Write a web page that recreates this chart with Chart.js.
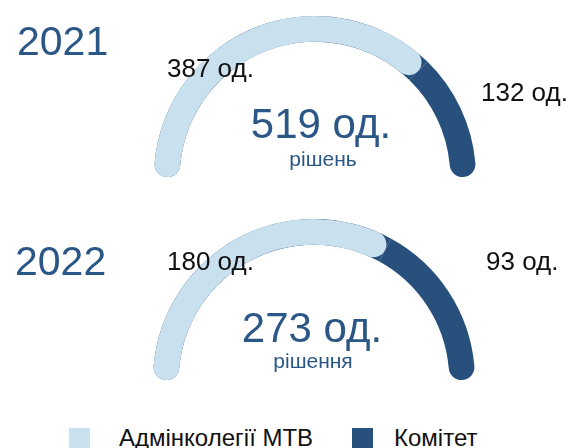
<!DOCTYPE html>
<html lang="uk">
<head>
<meta charset="utf-8">
<title>Рішення</title>
<script src="https://cdn.jsdelivr.net/npm/chart.js@4.4.0/dist/chart.umd.min.js"></script>
<style>
  html, body { margin: 0; padding: 0; background: #fff; }
  #page { position: relative; width: 570px; height: 448px; overflow: hidden; font-family: 'Liberation Sans', Arial, sans-serif; }
  .gauge { position: absolute; left: 0; width: 570px; height: 200px; }
  .swatch { position: absolute; top: 428px; width: 21px; height: 20px; }
  .legend-label { position: absolute; top: 426px; font-size: 24px; line-height: 24px; color: #111; white-space: nowrap; }
</style>
</head>
<body>
<div id="page">
  <div class="gauge" style="top:0px"><canvas id="gauge-0" width="570" height="200"></canvas></div>
  <div class="gauge" style="top:205px"><canvas id="gauge-1" width="570" height="200"></canvas></div>
</div>
<script>
// decisions per year: admin board vs committee
const years = ['2021', '2022'];
const categories = ['Адмінколегії МТВ', 'Комітет'];
const adminDecisions = [387, 180];
const committeeDecisions = [132, 93];
const totalCaptions = ['рішень', 'рішення'];
const unit = 'од.';

const LIGHT = '#c9e1ee';
const DARK = '#27507c';
const BLUE_TEXT = '#2b5786';
const FONT = "'Liberation Sans', Arial, sans-serif";

// canvas-local text positions [x, baseline] for each gauge
const gaugeLayout = [
  { padding: { left: 165, right: 105, top: 10, bottom: 17 },
    year: [17, 55], left: [167, 77], right: [481, 101], total: [321, 138], caption: [323, 166] },
  { padding: { left: 163, right: 105, top: 8, bottom: 19 },
    year: [15, 70], left: [167, 65], right: [486, 65], total: [312, 137], caption: [313, 163] }
];

// dark track is drawn under the light arc on the same ring
const sharedRing = {
  id: 'sharedRing',
  afterDatasetsUpdate(chart) {
    const ref = chart.getDatasetMeta(0).data[0];
    chart.getDatasetMeta(1).data.forEach(arc => {
      arc.innerRadius = ref.innerRadius;
      arc.outerRadius = ref.outerRadius;
    });
  }
};

function gaugeText(i) {
  const pos = gaugeLayout[i];
  return {
    id: 'gaugeText',
    afterDraw(chart) {
      const ctx = chart.ctx;
      ctx.save();
      ctx.textBaseline = 'alphabetic';
      ctx.textAlign = 'left';
      ctx.fillStyle = BLUE_TEXT;
      ctx.font = '41px ' + FONT;
      ctx.fillText(years[i], pos.year[0], pos.year[1]);

      ctx.fillStyle = '#111';
      ctx.font = '26px ' + FONT;
      ctx.fillText(`${adminDecisions[i]} ${unit}`, pos.left[0], pos.left[1]);
      ctx.fillText(`${committeeDecisions[i]} ${unit}`, pos.right[0], pos.right[1]);

      ctx.fillStyle = BLUE_TEXT;
      ctx.textAlign = 'center';
      ctx.font = '42px ' + FONT;
      ctx.fillText(`${adminDecisions[i] + committeeDecisions[i]} ${unit}`, pos.total[0], pos.total[1]);
      ctx.font = '21px ' + FONT;
      ctx.fillText(totalCaptions[i], pos.caption[0], pos.caption[1]);
      ctx.restore();
    }
  };
}

years.forEach((year, i) => {
  const values = [adminDecisions[i], committeeDecisions[i]];
  new Chart(document.getElementById('gauge-' + i), {
    type: 'doughnut',
    data: {
      labels: categories,
      datasets: [
        {
          label: categories[0],
          data: values,
          backgroundColor: [LIGHT, 'rgba(0,0,0,0)'],
          borderWidth: 0,
          hoverOffset: 0,
          borderRadius: c => c.dataIndex === 0 ? 30 : 0
        },
        {
          label: categories[1],
          data: values,
          backgroundColor: [DARK, DARK],
          borderWidth: 0,
          hoverOffset: 0,
          weight: 0,
          borderRadius: c => c.dataIndex === 0
            ? { outerStart: 30, innerStart: 30, outerEnd: 0, innerEnd: 0 }
            : { outerStart: 0, innerStart: 0, outerEnd: 30, innerEnd: 30 }
        }
      ]
    },
    options: {
      responsive: false,
      animation: false,
      events: [],
      rotation: -90,
      circumference: 180,
      radius: 161,
      cutout: '84%',
      layout: { padding: gaugeLayout[i].padding },
      plugins: {
        legend: { display: false },
        tooltip: { enabled: false }
      }
    },
    plugins: [sharedRing, gaugeText(i)]
  });
});

// legend
const legendColors = [LIGHT, DARK];
const swatchX = [69, 352];
const labelX = [119, 394];
const page = document.getElementById('page');
categories.forEach((name, i) => {
  const sw = document.createElement('div');
  sw.className = 'swatch';
  sw.style.left = swatchX[i] + 'px';
  sw.style.background = legendColors[i];
  page.appendChild(sw);

  const lbl = document.createElement('div');
  lbl.className = 'legend-label';
  lbl.style.left = labelX[i] + 'px';
  lbl.textContent = name;
  page.appendChild(lbl);
});
</script>
</body>
</html>
